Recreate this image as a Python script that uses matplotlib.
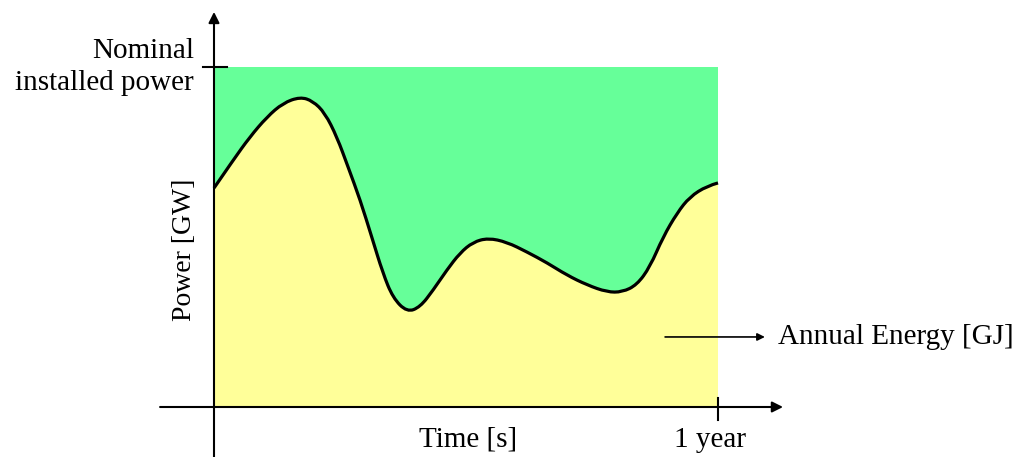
import matplotlib
matplotlib.use('Agg')
import matplotlib.pyplot as plt
from matplotlib.path import Path
from matplotlib.patches import PathPatch

plt.rcParams['font.family'] = ['Liberation Serif', 'DejaVu Serif']

# 时间（以一年为1）与功率（以额定装机功率为1）
time = [0.0, 0.038, 0.071, 0.105, 0.137, 0.171, 0.196, 0.220, 0.244, 0.266,
        0.290, 0.313, 0.335, 0.355, 0.383, 0.409, 0.435, 0.462, 0.488, 0.514,
        0.544, 0.581, 0.621, 0.661, 0.700, 0.740, 0.780, 0.810, 0.839, 0.865,
        0.891, 0.919, 0.944, 0.978, 1.0]
power = [0.644, 0.726, 0.794, 0.853, 0.894, 0.912, 0.900, 0.865, 0.794, 0.706,
         0.609, 0.500, 0.394, 0.321, 0.279, 0.294, 0.344, 0.403, 0.453, 0.485,
         0.497, 0.485, 0.456, 0.424, 0.388, 0.359, 0.338, 0.338, 0.359, 0.412,
         0.500, 0.571, 0.618, 0.650, 0.659]
nominal = 1.0

green = '#66FF99'
yellow = '#FFFF99'


def smooth_path(xs, ys):
    # 用二次贝塞尔曲线连接读取的点，让 matplotlib 画出平滑曲线
    verts = [(xs[0], ys[0])]
    codes = [Path.MOVETO]
    for i in range(1, len(xs) - 1):
        mx = (xs[i] + xs[i + 1]) / 2
        my = (ys[i] + ys[i + 1]) / 2
        if i == len(xs) - 2:
            mx, my = xs[-1], ys[-1]
        verts += [(xs[i], ys[i]), (mx, my)]
        codes += [Path.CURVE3, Path.CURVE3]
    return verts, codes


fig = plt.figure(figsize=(10.29, 4.57), dpi=100)
ax = fig.add_axes([0, 0, 1, 1])
ax.set_xlim(-214 / 504, (1029 - 214) / 504)
ax.set_ylim((407 - 457) / 340, 407 / 340)
ax.axis('off')

verts, codes = smooth_path(time, power)

# 额定功率矩形（绿色），曲线下方能量（黄色）
ax.fill_between([time[0], time[-1]], 0, nominal, color=green, linewidth=0)
fill_verts = verts + [(time[-1], 0), (time[0], 0), (time[0], power[0])]
fill_codes = codes + [Path.LINETO, Path.LINETO, Path.CLOSEPOLY]
ax.add_patch(PathPatch(Path(fill_verts, fill_codes), facecolor=yellow,
                       edgecolor='none'))
ax.add_patch(PathPatch(Path(verts, codes), facecolor='none',
                       edgecolor='black', linewidth=2.3, capstyle='butt'))

# 坐标轴箭头
arrow = dict(arrowstyle='-|>', color='black', lw=1.5, mutation_scale=16,
             shrinkA=0, shrinkB=0)
ax.annotate('', xy=(0, 1.162), xytext=(0, -0.15), arrowprops=arrow)
ax.annotate('', xy=(1.129, 0), xytext=(-0.107, 0), arrowprops=arrow)

# 刻度
ax.plot([-0.022, 0.026], [nominal, nominal], color='black', lw=1.5)
ax.plot([1.0, 1.0], [0.026, -0.038], color='black', lw=1.5)

# 年能量箭头
ax.annotate('', xy=(1.093, 0.206), xytext=(0.895, 0.206),
            arrowprops=dict(arrowstyle='-|>', color='black', lw=1.2,
                            mutation_scale=11, shrinkA=0, shrinkB=0))
ax.text(1.119, 0.206, 'Annual Energy [GJ]', fontsize=21, ha='left', va='center')

ax.text(-0.04, 1.0, 'Nominal\ninstalled power', fontsize=21, ha='right',
        va='center', multialignment='right', linespacing=1.28)
ax.text(-0.058, 0.462, 'Power [GW]', fontsize=20, rotation=90,
        ha='center', va='center')
ax.text(0.504, -0.097, 'Time [s]', fontsize=21, ha='center', va='center')
ax.text(0.984, -0.097, '1 year', fontsize=21, ha='center', va='center')

plt.savefig('out.png', dpi=100)
